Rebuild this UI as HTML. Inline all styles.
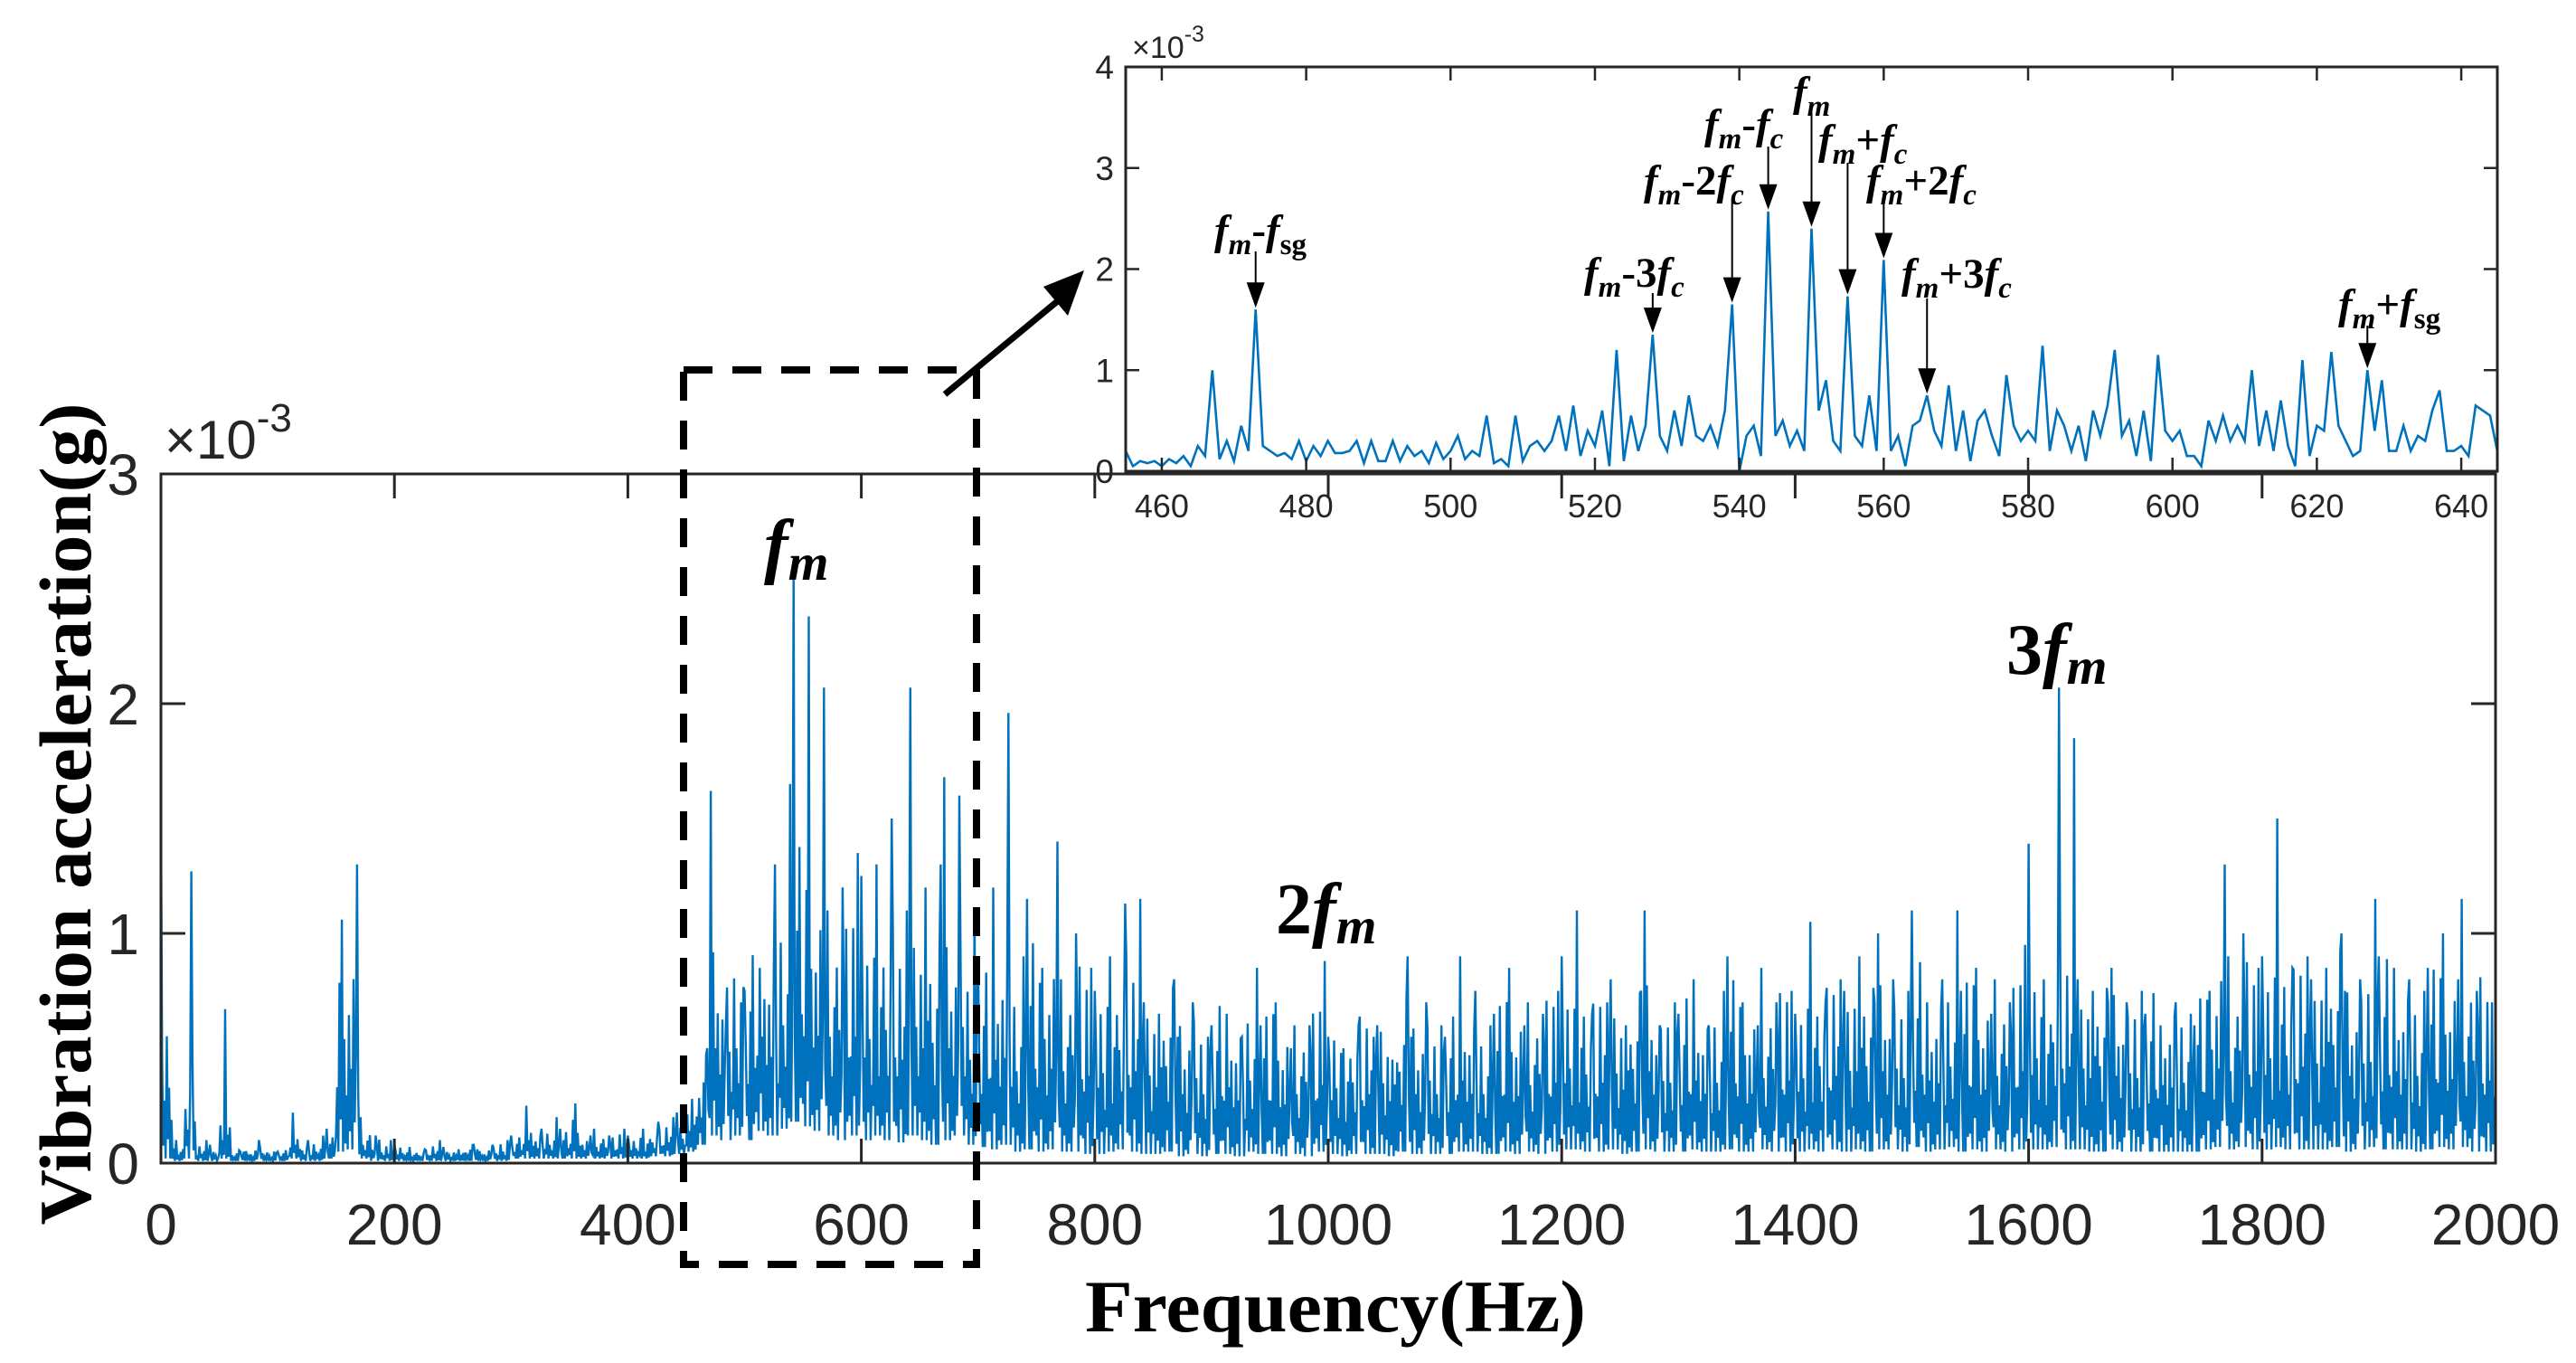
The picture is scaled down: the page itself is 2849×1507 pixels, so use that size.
<!DOCTYPE html>
<html><head><meta charset="utf-8">
<style>
html,body{margin:0;padding:0;background:#fff;}
svg{display:block;}
.tk{font-family:"Liberation Sans",Arial,sans-serif;fill:#262626;}
.an{font-family:"Liberation Serif","Times New Roman",serif;font-weight:bold;fill:#000;}
</style></head>
<body>
<svg id="chart" xmlns="http://www.w3.org/2000/svg" width="2849" height="1507" viewBox="0 0 2849 1507">
<rect x="0" y="0" width="2849" height="1507" fill="#fff"/>
<g id="main"></g>
<g id="overlay"></g>
<g id="inset"></g>
</svg>
<script>
// ---------- main spectrum data (x1e-3 g), 10 Hz bins ----------
const mainFreqs = [];
for (let f = 0; f <= 2000; f += 10) mainFreqs.push(f);
const mainPeaks = [
1.55,0.10,1.27,0.10,0.08,0.67,0.05,0.05,0.10,0.05,0.05,0.22,0.10,0.12,0.15,1.06,1.30,0.20,0.12,0.10,
0.08,0.07,0.06,0.10,0.07,0.06,0.08,0.06,0.08,0.10,0.12,0.25,0.15,0.20,0.15,0.26,0.12,0.15,0.12,0.15,
0.12,0.15,0.18,0.20,0.22,0.28,0.50,1.62,0.60,0.70,0.75,0.85,1.30,1.65,2.57,2.38,2.07,1.10,1.20,1.35,
1.25,1.30,1.50,1.10,2.07,1.20,1.30,1.68,1.60,1.10,0.90,1.20,1.96,0.90,1.15,0.85,1.40,0.80,1.00,0.85,
0.75,0.90,1.13,1.15,0.70,0.65,0.80,0.55,0.70,0.55,0.60,0.65,0.55,0.85,0.60,0.70,0.50,0.60,0.60,0.88,
0.55,0.50,0.60,0.55,0.60,0.45,0.90,0.55,0.70,0.60,0.55,0.90,0.75,0.60,0.65,0.85,0.60,0.70,0.65,0.75,
0.90,1.10,0.65,0.70,0.80,0.60,0.75,1.10,0.60,0.70,0.65,0.80,0.60,0.75,0.90,0.70,0.60,0.85,0.70,0.75,
0.65,1.05,0.70,0.80,0.75,0.90,0.70,1.00,0.80,0.75,1.10,0.70,0.80,1.10,0.75,0.85,0.65,0.80,0.70,0.95,
1.39,0.80,2.07,1.85,0.80,0.75,0.70,0.85,0.70,0.75,0.65,0.60,0.70,0.65,0.60,0.75,1.30,0.90,1.00,0.85,
0.90,1.50,0.85,0.90,0.80,0.85,1.00,0.75,0.80,1.15,0.90,0.85,0.80,0.75,0.85,1.00,0.80,1.15,0.75,0.70,
0.50];
const mainMids = [
0.30,0.04,0.20,0.04,0.03,0.10,0.03,0.03,0.04,0.03,0.03,0.08,0.04,0.05,0.06,0.40,0.45,0.08,0.05,0.04,
0.04,0.03,0.03,0.04,0.03,0.03,0.04,0.03,0.04,0.05,0.06,0.10,0.07,0.08,0.07,0.10,0.06,0.07,0.06,0.07,
0.06,0.07,0.08,0.09,0.10,0.14,0.25,0.50,0.45,0.50,0.45,0.55,0.50,0.60,0.70,0.65,0.60,0.55,0.50,0.55,
0.50,0.55,0.50,0.45,0.55,0.50,0.45,0.50,0.55,0.45,0.40,0.45,0.50,0.40,0.45,0.40,0.45,0.40,0.40,0.38,
0.36,0.40,0.42,0.40,0.35,0.33,0.36,0.30,0.34,0.30,0.32,0.33,0.30,0.36,0.30,0.33,0.28,0.30,0.30,0.34,
0.30,0.28,0.30,0.30,0.32,0.27,0.34,0.30,0.33,0.30,0.30,0.36,0.33,0.30,0.32,0.36,0.32,0.34,0.33,0.35,
0.38,0.40,0.33,0.35,0.36,0.32,0.35,0.40,0.33,0.35,0.34,0.36,0.33,0.35,0.38,0.35,0.33,0.37,0.35,0.36,
0.34,0.40,0.36,0.38,0.37,0.40,0.36,0.40,0.38,0.37,0.42,0.36,0.38,0.42,0.37,0.40,0.35,0.38,0.36,0.40,
0.42,0.38,0.45,0.42,0.38,0.37,0.36,0.38,0.36,0.37,0.35,0.34,0.36,0.35,0.34,0.37,0.45,0.40,0.42,0.40,
0.42,0.48,0.40,0.42,0.40,0.42,0.44,0.38,0.40,0.44,0.42,0.40,0.40,0.38,0.40,0.42,0.40,0.44,0.38,0.36,
0.30];
const mainLows = [
0.02,0.01,0.02,0.01,0.01,0.02,0.01,0.01,0.01,0.01,0.01,0.02,0.01,0.01,0.02,0.05,0.06,0.02,0.01,0.01,
0.01,0.01,0.01,0.01,0.01,0.01,0.01,0.01,0.01,0.01,0.02,0.02,0.02,0.02,0.02,0.02,0.02,0.02,0.02,0.02,
0.02,0.02,0.03,0.03,0.04,0.05,0.08,0.12,0.10,0.12,0.10,0.14,0.12,0.15,0.18,0.16,0.14,0.12,0.10,0.12,
0.10,0.12,0.10,0.09,0.12,0.10,0.08,0.10,0.12,0.08,0.07,0.06,0.08,0.05,0.06,0.05,0.06,0.05,0.05,0.04,
0.04,0.05,0.06,0.05,0.04,0.04,0.05,0.03,0.04,0.03,0.04,0.04,0.03,0.05,0.04,0.04,0.03,0.04,0.03,0.05,
0.04,0.03,0.04,0.04,0.04,0.03,0.05,0.04,0.04,0.04,0.04,0.05,0.05,0.04,0.04,0.05,0.04,0.05,0.04,0.05,
0.06,0.06,0.05,0.05,0.06,0.04,0.05,0.06,0.05,0.05,0.05,0.06,0.05,0.05,0.06,0.05,0.05,0.06,0.05,0.05,
0.05,0.06,0.05,0.06,0.05,0.06,0.05,0.06,0.06,0.05,0.07,0.05,0.06,0.07,0.05,0.06,0.05,0.06,0.05,0.06,
0.06,0.06,0.07,0.06,0.06,0.05,0.05,0.06,0.05,0.05,0.05,0.05,0.05,0.05,0.05,0.06,0.07,0.06,0.07,0.06,
0.06,0.07,0.06,0.06,0.06,0.06,0.07,0.05,0.06,0.07,0.06,0.06,0.06,0.05,0.06,0.07,0.06,0.07,0.05,0.05,
0.04];
const mainXTicks = [0,200,400,600,800,1000,1200,1400,1600,1800,2000];
const mainYTicks = [0,1,2,3];

// ---------- inset data (x1e-3 g), 1 Hz, 455..645 ----------
const insetStart = 455;
const insetVals = [
0.20,0.05,0.10,0.08,0.10,0.05,0.12,0.08,0.15,0.05,
0.25,0.15,1.00,0.12,0.30,0.10,0.45,0.20,1.60,0.25,
0.20,0.15,0.18,0.12,0.30,0.10,0.25,0.15,0.30,0.18,
0.18,0.20,0.30,0.08,0.30,0.10,0.10,0.30,0.10,0.25,
0.15,0.20,0.08,0.28,0.12,0.20,0.35,0.12,0.20,0.15,
0.55,0.08,0.12,0.05,0.55,0.10,0.25,0.30,0.20,0.30,
0.55,0.20,0.65,0.15,0.40,0.25,0.60,0.05,1.20,0.10,
0.55,0.20,0.45,1.35,0.35,0.20,0.60,0.25,0.75,0.35,
0.30,0.45,0.25,0.60,1.65,0.00,0.35,0.45,0.15,2.57,
0.35,0.50,0.25,0.40,0.20,2.40,0.60,0.90,0.30,0.20,
1.73,0.35,0.25,0.75,0.20,2.09,0.20,0.35,0.05,0.45,
0.50,0.75,0.40,0.25,0.85,0.20,0.60,0.10,0.50,0.60,
0.35,0.15,0.95,0.45,0.30,0.40,0.30,1.24,0.20,0.60,
0.45,0.20,0.45,0.10,0.60,0.35,0.65,1.20,0.35,0.50,
0.15,0.60,0.10,1.15,0.40,0.30,0.40,0.15,0.15,0.05,
0.50,0.30,0.55,0.30,0.45,0.30,1.00,0.25,0.60,0.20,
0.70,0.25,0.05,1.10,0.15,0.45,0.40,1.18,0.45,0.30,
0.15,0.20,1.00,0.40,0.90,0.20,0.20,0.45,0.20,0.35,
0.30,0.60,0.80,0.20,0.20,0.25,0.15,0.65,0.60,0.55,0.20];
const insetXTicks = [460,480,500,520,540,560,580,600,620,640];
const insetYTicks = [0,1,2,3,4];
const annFreqs = [473,528,539,544,550,555,560,566,627];
const annVals  = [1.60,1.35,1.65,2.57,2.40,1.73,2.09,0.75,1.00];
const annLabels = [
 [["f","i"],["m","s"],["-",""],["f","i"],["sg","sn"]],
 [["f","i"],["m","s"],["-3",""],["f","i"],["c","s"]],
 [["f","i"],["m","s"],["-2",""],["f","i"],["c","s"]],
 [["f","i"],["m","s"],["-",""],["f","i"],["c","s"]],
 [["f","i"],["m","s"]],
 [["f","i"],["m","s"],["+",""],["f","i"],["c","s"]],
 [["f","i"],["m","s"],["+2",""],["f","i"],["c","s"]],
 [["f","i"],["m","s"],["+3",""],["f","i"],["c","s"]],
 [["f","i"],["m","s"],["+",""],["f","i"],["sg","sn"]]
];
const annNames = ["fm-minus-fsg","fm-minus-3fc","fm-minus-2fc","fm-minus-fc","fm","fm-plus-fc","fm-plus-2fc","fm-plus-3fc","fm-plus-fsg"];
const annLayout = [[1343,270,278],[1752,317,324],[1818,215,222],[1885,153,162],[1983,117,124],[2011,170,180],[2064,215,225],[2103,318,330],[2586,352,360]];

const NS = "http://www.w3.org/2000/svg";
function mk(tag, attrs, parent){const e=document.createElementNS(NS,tag);for(const k in attrs)e.setAttribute(k,attrs[k]);parent.appendChild(e);return e;}

const M = {l:178, r:2760, t:524, b:1286, xmin:0, xmax:2000, ymax:3};
const xM = f => M.l + (f - M.xmin)/(M.xmax - M.xmin)*(M.r - M.l);
const yM = v => M.b - v/M.ymax*(M.b - M.t);
const gMain = document.getElementById('main');

// drawing shape inside each 10 Hz bin (relative level of bin mid); rotated per bin for irregularity
const subShapes = [
  [0,1.5,0.2,0.9,0,1.9,0.3,1.1,0,0.6],
  [0.2,0.8,0,2.1,0.4,1.0,0,1.4,0.1,0.7],
  [0,1.2,0.3,0.7,0,1.6,0,2.3,0.2,0.9],
  [0.3,1.8,0,1.0,0.2,0.6,0,1.3,0.1,1.7]
];
let pts = [];
for (let i=0;i<mainFreqs.length;i++){
  const f = mainFreqs[i];
  if (i===mainFreqs.length-1){ pts.push([xM(f), yM(mainMids[i])]); break; }
  const shape = subShapes[(i*7)%4];
  const pk = (i*3)%10;
  for (let j=0;j<10;j++){
    let v = (j===pk) ? mainPeaks[i] : mainLows[i] + (mainMids[i]-mainLows[i])*shape[j];
    pts.push([xM(f+j), yM(v)]);
  }
}
const mainLine = mk('polyline',{points:pts.map(p=>p[0].toFixed(1)+','+p[1].toFixed(1)).join(' '),fill:'none',stroke:'#0072BD','stroke-width':2.4,'stroke-linejoin':'miter'},gMain);



const mainBox = mk('rect',{x:M.l,y:M.t,width:M.r-M.l,height:M.b-M.t,fill:'none',stroke:'#262626','stroke-width':3},gMain);



mainXTicks.forEach(t=>{
  const x=xM(t);
  mk('line',{x1:x,y1:M.b,x2:x,y2:M.b-27,stroke:'#262626','stroke-width':3},gMain);
  mk('line',{x1:x,y1:M.t,x2:x,y2:M.t+27,stroke:'#262626','stroke-width':3},gMain);
  const tx = mk('text',{x:x,y:1376,'text-anchor':'middle','font-size':64,class:'tk'},gMain);
  tx.textContent=String(t);
  
  
});
mainYTicks.forEach(t=>{
  const y=yM(t);
  mk('line',{x1:M.l,y1:y,x2:M.l+27,y2:y,stroke:'#262626','stroke-width':3},gMain);
  mk('line',{x1:M.r,y1:y,x2:M.r-27,y2:y,stroke:'#262626','stroke-width':3},gMain);
  const ty = mk('text',{x:154,y:y+23,'text-anchor':'end','font-size':64,class:'tk'},gMain);
  ty.textContent=String(t);
  
  
});
const expo = mk('text',{x:182,y:507,'font-size':60,class:'tk'},gMain);


expo.innerHTML='×10<tspan font-size="44" dy="-30">-3</tspan>';

const yTitle = mk('text',{x:0,y:0,'font-size':82,class:'an','text-anchor':'middle',transform:'translate(100,900) rotate(-90)',textLength:909,lengthAdjust:'spacingAndGlyphs'},gMain);
yTitle.textContent='Vibration acceleration(g)';


const xTitle = mk('text',{x:1477,y:1472,'font-size':82,class:'an','text-anchor':'middle',textLength:554,lengthAdjust:'spacingAndGlyphs'},gMain);
xTitle.textContent='Frequency(Hz)';



function harm(x,y,pre,size,name){
  const t=mk('text',{x:x,y:y,'font-size':size,class:'an'},gMain);
  t.innerHTML=(pre?pre:'')+'<tspan font-style="italic">f</tspan><tspan font-style="italic" font-size="'+(size*0.72)+'" dy="'+(size*0.14)+'">m</tspan>';
  
  
}
harm(845,630,'',80,'fm-label');
harm(1411,1032,'2',80,'2fm-label');
harm(2219,745,'3',80,'3fm-label');

const gO = document.getElementById('overlay');
const dr = mk('rect',{x:756,y:409,width:324,height:989,fill:'none',stroke:'#000','stroke-width':8,'stroke-dasharray':'32 22'},gO);


const ar = mk('line',{x1:1045,y1:436,x2:1172,y2:331,stroke:'#000','stroke-width':7},gO);


const ah = mk('polygon',{points:'1199,299 1154,317 1181,349',fill:'#000'},gO);



const I = {l:1245, r:2762, t:74, b:521, xmin:455, xmax:645, ymax:4};
const xI = f => I.l + (f - I.xmin)/(I.xmax - I.xmin)*(I.r - I.l);
const yI = v => I.b - v/I.ymax*(I.b - I.t);
const gI = document.getElementById('inset');
const ibg = mk('rect',{x:I.l,y:I.t,width:I.r-I.l,height:I.b-I.t,fill:'#fff'},gI);


const ip = insetVals.map((v,i)=>xI(insetStart+i).toFixed(1)+','+yI(v).toFixed(1)).join(' ');
const il = mk('polyline',{points:ip,fill:'none',stroke:'#0072BD','stroke-width':2.6},gI);


const ib = mk('rect',{x:I.l,y:I.t,width:I.r-I.l,height:I.b-I.t,fill:'none',stroke:'#262626','stroke-width':3},gI);


insetXTicks.forEach(t=>{
  const x=xI(t);
  mk('line',{x1:x,y1:I.b,x2:x,y2:I.b-15,stroke:'#262626','stroke-width':2.5},gI);
  mk('line',{x1:x,y1:I.t,x2:x,y2:I.t+15,stroke:'#262626','stroke-width':2.5},gI);
  const tx=mk('text',{x:x,y:572,'text-anchor':'middle','font-size':36,class:'tk'},gI);
  tx.textContent=String(t);
  
  
});
insetYTicks.forEach(t=>{
  const y=yI(t);
  mk('line',{x1:I.l,y1:y,x2:I.l+15,y2:y,stroke:'#262626','stroke-width':2.5},gI);
  mk('line',{x1:I.r,y1:y,x2:I.r-15,y2:y,stroke:'#262626','stroke-width':2.5},gI);
  const ty=mk('text',{x:1232,y:y+13,'text-anchor':'end','font-size':37,class:'tk'},gI);
  ty.textContent=String(t);
  
  
});
const iexp = mk('text',{x:1252,y:64,'font-size':34,class:'tk'},gI);
iexp.innerHTML='×10<tspan font-size="25" dy="-18">-3</tspan>';



annFreqs.forEach((f,i)=>{
  const [lx,by,ay]=annLayout[i];
  const x=xI(f), tip=yI(annVals[i])-2;
  const g=mk('g',{},gI);
  
  
  mk('line',{x1:x,y1:ay,x2:x,y2:tip-26,stroke:'#000','stroke-width':2},g);
  mk('polygon',{points:(x-10)+','+(tip-28)+' '+(x+10)+','+(tip-28)+' '+x+','+tip,fill:'#000'},g);
  const t=mk('text',{x:lx,y:by,'font-size':47,class:'an'},g);
  let html='', dy=0;
  annLabels[i].forEach(([s,k])=>{
    let target = (k==='s'||k==='sn')?11:0;
    const d=target-dy; dy=target;
    const fs = (k==='s'||k==='sn')?' font-size="33"':'';
    const st = (k==='i'||k==='s')?' font-style="italic"':'';
    html+='<tspan'+st+fs+' dy="'+d+'">'+s+'</tspan>';
  });
  t.innerHTML=html;
  
  
});
</script>
</body></html>
